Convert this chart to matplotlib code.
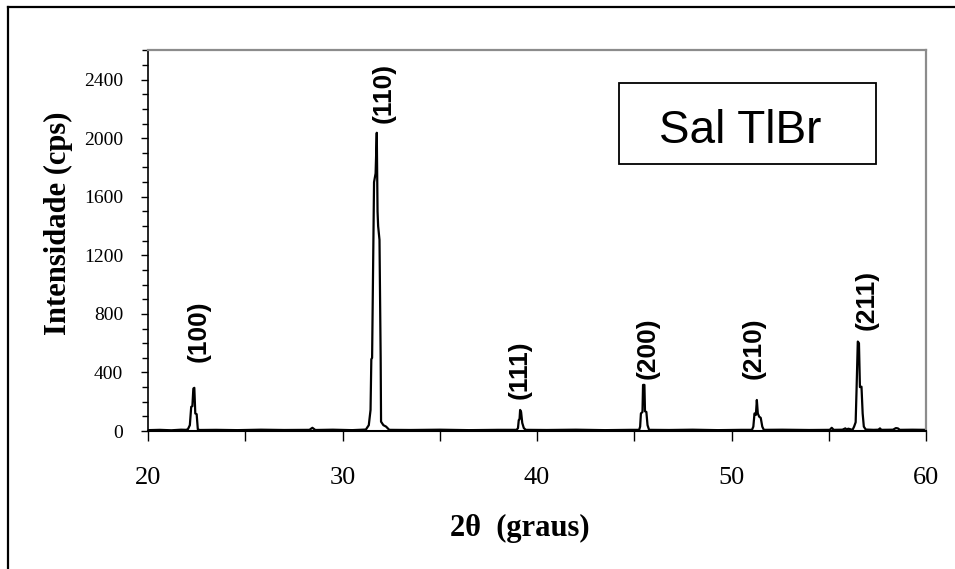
import matplotlib.pyplot as plt
from matplotlib.lines import Line2D
from matplotlib.patches import Rectangle
from matplotlib.ticker import MultipleLocator

# DATA
two_theta = [20.0, 20.6, 21.2, 21.7, 21.95, 22.05, 22.15, 22.22, 22.28, 22.33, 22.38, 22.43,
             22.5, 22.56, 22.65, 23.5, 24.6, 25.8, 27.0, 28.3, 28.45, 28.6, 29.5, 30.5,
             31.2, 31.35, 31.44, 31.48, 31.52, 31.62, 31.7, 31.76, 31.8, 31.83, 31.9, 31.96,
             31.98, 32.1, 32.24, 32.4, 33.5, 35.0, 36.5, 38.0, 38.95, 39.02, 39.06, 39.1,
             39.13, 39.18, 39.24, 39.32, 39.42, 40.5, 42.0, 43.5, 44.8, 45.25, 45.3, 45.34,
             45.42, 45.45, 45.52, 45.55, 45.62, 45.68, 45.76, 46.8, 48.0, 49.3, 50.5, 51.05,
             51.12, 51.18, 51.25, 51.3, 51.35, 51.42, 51.5, 51.58, 51.66, 52.6, 54.0, 55.05,
             55.15, 55.25, 55.7, 55.85, 55.92, 56.0, 56.22, 56.3, 56.38, 56.43, 56.49, 56.55,
             56.6, 56.68, 56.74, 56.8, 56.9, 57.3, 57.55, 57.63, 57.7, 58.3, 58.45, 58.55,
             58.65, 59.3, 60.0]
intensity = [6, 8, 5, 9, 8, 12, 40, 165, 170, 290, 295, 120,
             115, 12, 7, 8, 6, 9, 7, 8, 22, 7, 9, 6,
             10, 40, 144, 490, 500, 1700, 1760, 2037, 1500, 1400, 1306, 500,
             64, 40, 30, 8, 7, 9, 6, 8, 8, 20, 75, 80,
             144, 130, 55, 20, 8, 7, 9, 6, 8, 8, 30, 120,
             130, 315, 315, 135, 130, 40, 8, 7, 9, 6, 8, 8,
             30, 120, 110, 212, 120, 98, 90, 30, 8, 9, 7, 8,
             22, 8, 9, 18, 10, 16, 8, 30, 60, 300, 611, 600,
             300, 303, 120, 30, 10, 8, 9, 18, 8, 9, 20, 18,
             8, 9, 8]

peak_labels = ["(100)", "(110)", "(111)", "(200)", "(210)", "(211)"]
label_x = [22.62, 32.13, 39.13, 45.66, 51.11, 56.92]
label_y = [684, 2311, 417, 568, 568, 896]

fig = plt.figure(figsize=(9.55, 5.69), dpi=100)
ax = fig.add_axes([0.155, 0.2425, 0.8147, 0.669])

ax.plot(two_theta, intensity, color="black", linewidth=1.6)

ax.set_xlim(20, 60)
ax.set_ylim(0, 2600)

# ticks
ax.xaxis.set_major_locator(MultipleLocator(10))
ax.xaxis.set_minor_locator(MultipleLocator(5))
ax.yaxis.set_major_locator(MultipleLocator(400))
ax.yaxis.set_minor_locator(MultipleLocator(100))
ax.tick_params(axis="x", which="both", direction="out", length=7, width=1.0, pad=19,
               labelsize=19, top=False)
ax.tick_params(axis="y", which="major", direction="out", length=5, width=1.0, pad=13,
               labelsize=14, right=False)
ax.tick_params(axis="y", which="minor", direction="out", length=4, width=1.0, right=False)
for lab in ax.get_xticklabels() + ax.get_yticklabels():
    lab.set_fontfamily("Liberation Serif")

# spines
ax.spines["left"].set_color("black")
ax.spines["bottom"].set_color("black")
ax.spines["left"].set_linewidth(1.2)
ax.spines["bottom"].set_linewidth(1.5)
ax.spines["top"].set_color("#8c8c8c")
ax.spines["right"].set_color("#8c8c8c")
ax.spines["top"].set_linewidth(1.6)
ax.spines["right"].set_linewidth(1.6)

# axis labels
ax.set_xlabel("2\u03b8  (graus)", fontfamily="Liberation Serif", fontweight="bold",
              fontsize=22, va="center")
ax.xaxis.set_label_coords(0.478, -0.255)
ax.set_ylabel("Intensidade (cps)", fontfamily="Liberation Serif", fontweight="bold",
              fontsize=22, va="center")
ax.yaxis.set_label_coords(-0.1157, 0.546)

# peak labels
for lab, x, y in zip(peak_labels, label_x, label_y):
    ax.text(x, y, lab, rotation=90, ha="center", va="center",
            fontfamily="Liberation Sans", fontweight="bold", fontsize=19)

# sample name box
fig.patches.append(Rectangle((0.648, 0.7118), 0.269, 0.1424, transform=fig.transFigure,
                             fill=False, edgecolor="black", linewidth=1.3))
fig.text(0.775, 0.770, "Sal TlBr", ha="center", va="center",
         fontfamily="Liberation Sans", fontsize=33)

# outer frame (top and left edges only visible)
fig.add_artist(Line2D([8 / 955, 1.0], [1 - 7 / 569, 1 - 7 / 569], transform=fig.transFigure,
                      color="black", linewidth=1.6))
fig.add_artist(Line2D([8 / 955, 8 / 955], [0.0, 1 - 7 / 569], transform=fig.transFigure,
                      color="black", linewidth=1.6))

fig.savefig("out.png", dpi=100)
